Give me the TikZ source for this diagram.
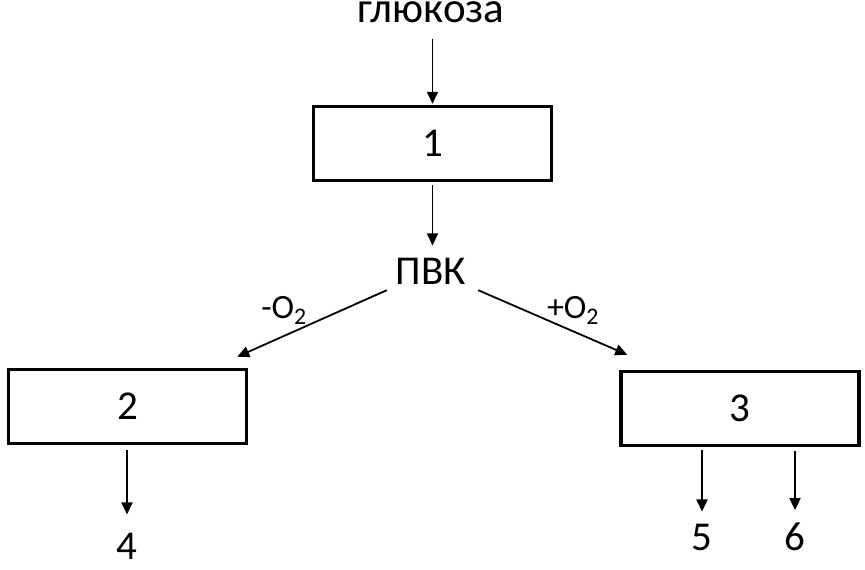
\documentclass[tikz,border=0pt]{standalone}
\usepackage{fontspec}
\setmainfont{Carlito}
\usetikzlibrary{arrows.meta}

\tikzset{
  box/.style={draw=black, line width=3.5pt, minimum width=238pt, minimum height=74pt,
              inner sep=0pt, font=\fontsize{41}{45}\selectfont},
  lbl/.style={inner sep=0pt, anchor=base, font=\fontsize{41}{45}\selectfont},
  sub/.style={inner sep=0pt, anchor=base, font=\fontsize{34}{38}\selectfont},
  arr/.style={line width=1.8pt, -{Triangle[length=12pt,width=11pt]}}
}

\begin{document}
\begin{tikzpicture}[x=1pt,y=-1pt]
\useasboundingbox (0,0) rectangle (865,570);
% text and boxes
\node [lbl,font=\fontsize{43}{47}\selectfont] (glukoza) at (431,22) {глюкоза};
\node [box] (box1) at (432.5,143.5) {1};
\node [lbl] (pvk) at (431,284) {ПВК};
\node [box] (box2) at (127.5,406.5) {2};
\node [box] (box3) at (740,408.5) {3};
\node [sub] (minus) at (284,318) {-O\textsubscript{2}};
\node [sub] (plus) at (573,318) {+O\textsubscript{2}};
\node [lbl] (n4) at (127,559) {4};
\node [lbl] (n5) at (702,550) {5};
\node [lbl] (n6) at (795,550) {6};
% arrows
\draw [arr,shorten <=16pt,shorten >=1pt] (glukoza.south -| box1.north) -- (box1.north);
\draw [arr,shorten <=3pt,shorten >=12pt] (box1.south) -- (box1.south |- pvk.north);
\draw [arr] ([shift={(-9,6)}]pvk.south west) -- ([shift={(-11,-11)}]box2.north east);
\draw [arr] ([shift={(12,6)}]pvk.south east) -- ([shift={(8,-15)}]box3.north west);
\draw [arr,shorten <=5pt,shorten >=18pt] (box2.south -| n4) -- (n4.north);
\draw [arr,shorten <=3pt,shorten >=12pt] (box3.south -| n5) -- (n5.north);
\draw [arr,shorten <=4pt,shorten >=12pt] (box3.south -| n6) -- (n6.north);
\end{tikzpicture}
\end{document}
